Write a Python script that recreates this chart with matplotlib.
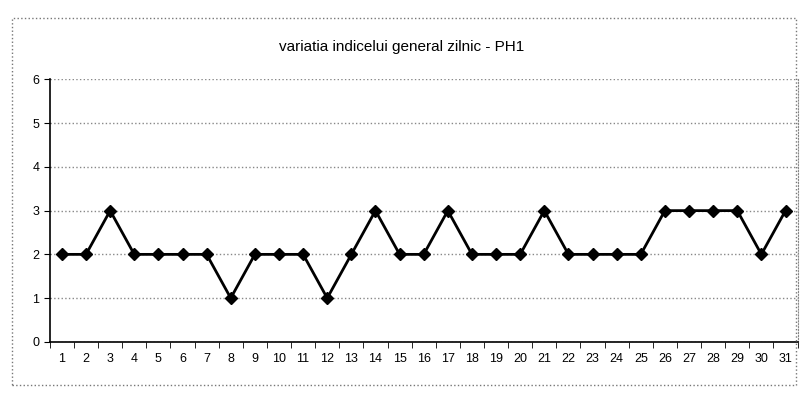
import matplotlib.pyplot as plt
from matplotlib.patches import Rectangle

days = list(range(1, 32))
values = [2, 2, 3, 2, 2, 2, 2, 1, 2, 2, 2, 1, 2, 3, 2, 2, 3, 2, 2, 2, 3,
          2, 2, 2, 2, 3, 3, 3, 3, 2, 3]
title = 'variatia indicelui general zilnic - PH1'

fig = plt.figure(figsize=(8.04, 4.07), dpi=100)
ax = fig.add_axes([0.062, 0.16, 0.93, 0.645])

ax.plot(days, values, color='black', linewidth=2, marker='D', markersize=6)

ax.set_xlim(0.5, 31.5)
ax.set_ylim(0, 6)
ax.set_yticks(range(0, 7))
ax.set_xticks(days)
ax.set_xticks([d + 0.5 for d in range(0, 32)], minor=True)
ax.tick_params(axis='x', which='major', length=0, pad=8, labelsize=9)
ax.tick_params(axis='x', which='minor', length=4, direction='out')
ax.tick_params(axis='y', labelsize=9, length=4)
ax.grid(axis='y', color='#888888', linestyle=':', linewidth=1)
ax.set_axisbelow(True)

ax.spines['top'].set_visible(False)
ax.spines['right'].set_linestyle(':')
ax.spines['right'].set_color('#888888')
ax.spines['left'].set_linewidth(1.2)
ax.spines['bottom'].set_linewidth(1.2)

fig.text(0.5, 0.885, title, ha='center', va='center', fontsize=11,
         family='Liberation Sans')
for t in ax.get_xticklabels() + ax.get_yticklabels():
    t.set_family('Liberation Sans')

fig.patches.append(Rectangle((0.015, 0.055), 0.975, 0.9, transform=fig.transFigure,
                             fill=False, edgecolor='#777777', linestyle=':',
                             linewidth=1))

plt.savefig('out.png', dpi=100)
